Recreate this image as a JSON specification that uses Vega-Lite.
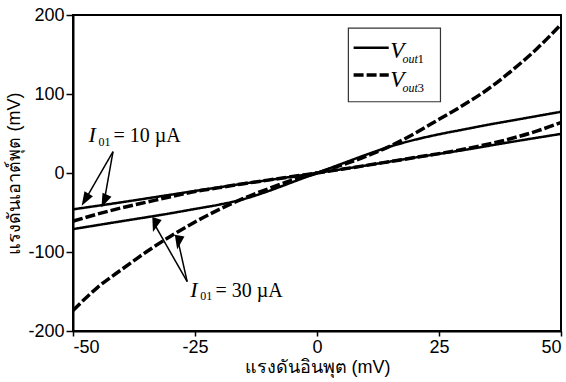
{
  "$schema": "https://vega.github.io/schema/vega-lite/v6.json",
  "autosize": {"type": "none"},
  "padding": {"left": 73, "top": 15, "right": 5, "bottom": 51},
  "width": 488,
  "height": 316,
  "background": "white",
  "config": {
    "view": {"stroke": "black", "strokeWidth": 2},
    "axis": {
      "grid": false,
      "domainColor": "black",
      "domainWidth": 2,
      "tickColor": "black",
      "tickWidth": 1.5,
      "labelColor": "black",
      "labelFont": "Liberation Sans",
      "labelFontSize": 18,
      "titleColor": "black",
      "titleFont": "sans-serif",
      "titleFontSize": 18,
      "titleFontWeight": "normal",
      "labelExpr": "replace(datum.label, '−', '-')"
    }
  },
  "datasets": {
    "curves": [
      {"series": "10uA", "kind": "Vout1", "x": -50, "y": -46},
      {"series": "10uA", "kind": "Vout1", "x": -40, "y": -37},
      {"series": "10uA", "kind": "Vout1", "x": -30, "y": -27.5},
      {"series": "10uA", "kind": "Vout1", "x": -20, "y": -18},
      {"series": "10uA", "kind": "Vout1", "x": -10, "y": -9},
      {"series": "10uA", "kind": "Vout1", "x": 0, "y": 0},
      {"series": "10uA", "kind": "Vout1", "x": 10, "y": 9.5},
      {"series": "10uA", "kind": "Vout1", "x": 20, "y": 19.5},
      {"series": "10uA", "kind": "Vout1", "x": 30, "y": 29},
      {"series": "10uA", "kind": "Vout1", "x": 40, "y": 39.5},
      {"series": "10uA", "kind": "Vout1", "x": 50, "y": 49.5},

      {"series": "10uA", "kind": "Vout3", "x": -50, "y": -61},
      {"series": "10uA", "kind": "Vout3", "x": -45, "y": -52},
      {"series": "10uA", "kind": "Vout3", "x": -40, "y": -44},
      {"series": "10uA", "kind": "Vout3", "x": -35, "y": -37},
      {"series": "10uA", "kind": "Vout3", "x": -30, "y": -30},
      {"series": "10uA", "kind": "Vout3", "x": -25, "y": -23.5},
      {"series": "10uA", "kind": "Vout3", "x": -20, "y": -18.5},
      {"series": "10uA", "kind": "Vout3", "x": -15, "y": -13.5},
      {"series": "10uA", "kind": "Vout3", "x": -10, "y": -9},
      {"series": "10uA", "kind": "Vout3", "x": -5, "y": -4.5},
      {"series": "10uA", "kind": "Vout3", "x": 0, "y": 0},
      {"series": "10uA", "kind": "Vout3", "x": 5, "y": 4.7},
      {"series": "10uA", "kind": "Vout3", "x": 10, "y": 9.5},
      {"series": "10uA", "kind": "Vout3", "x": 15, "y": 14.5},
      {"series": "10uA", "kind": "Vout3", "x": 20, "y": 19.5},
      {"series": "10uA", "kind": "Vout3", "x": 25, "y": 24.5},
      {"series": "10uA", "kind": "Vout3", "x": 30, "y": 30},
      {"series": "10uA", "kind": "Vout3", "x": 35, "y": 36.5},
      {"series": "10uA", "kind": "Vout3", "x": 40, "y": 44},
      {"series": "10uA", "kind": "Vout3", "x": 45, "y": 53},
      {"series": "10uA", "kind": "Vout3", "x": 50, "y": 64},

      {"series": "30uA", "kind": "Vout1", "x": -50, "y": -71},
      {"series": "30uA", "kind": "Vout1", "x": -40, "y": -61},
      {"series": "30uA", "kind": "Vout1", "x": -30, "y": -51},
      {"series": "30uA", "kind": "Vout1", "x": -25, "y": -45.5},
      {"series": "30uA", "kind": "Vout1", "x": -20, "y": -40},
      {"series": "30uA", "kind": "Vout1", "x": -15, "y": -33},
      {"series": "30uA", "kind": "Vout1", "x": -10, "y": -23},
      {"series": "30uA", "kind": "Vout1", "x": -5, "y": -11.5},
      {"series": "30uA", "kind": "Vout1", "x": 0, "y": 0},
      {"series": "30uA", "kind": "Vout1", "x": 5, "y": 11.5},
      {"series": "30uA", "kind": "Vout1", "x": 10, "y": 23},
      {"series": "30uA", "kind": "Vout1", "x": 15, "y": 33.5},
      {"series": "30uA", "kind": "Vout1", "x": 20, "y": 42},
      {"series": "30uA", "kind": "Vout1", "x": 25, "y": 49},
      {"series": "30uA", "kind": "Vout1", "x": 30, "y": 55},
      {"series": "30uA", "kind": "Vout1", "x": 35, "y": 61},
      {"series": "30uA", "kind": "Vout1", "x": 40, "y": 66.5},
      {"series": "30uA", "kind": "Vout1", "x": 45, "y": 72},
      {"series": "30uA", "kind": "Vout1", "x": 50, "y": 77.5},

      {"series": "30uA", "kind": "Vout3", "x": -50, "y": -174},
      {"series": "30uA", "kind": "Vout3", "x": -45, "y": -145},
      {"series": "30uA", "kind": "Vout3", "x": -40, "y": -122},
      {"series": "30uA", "kind": "Vout3", "x": -35, "y": -100},
      {"series": "30uA", "kind": "Vout3", "x": -30, "y": -80},
      {"series": "30uA", "kind": "Vout3", "x": -25, "y": -62},
      {"series": "30uA", "kind": "Vout3", "x": -20, "y": -46},
      {"series": "30uA", "kind": "Vout3", "x": -15, "y": -32},
      {"series": "30uA", "kind": "Vout3", "x": -10, "y": -20},
      {"series": "30uA", "kind": "Vout3", "x": -5, "y": -9},
      {"series": "30uA", "kind": "Vout3", "x": 0, "y": 0},
      {"series": "30uA", "kind": "Vout3", "x": 5, "y": 10},
      {"series": "30uA", "kind": "Vout3", "x": 10, "y": 21},
      {"series": "30uA", "kind": "Vout3", "x": 15, "y": 34},
      {"series": "30uA", "kind": "Vout3", "x": 20, "y": 50},
      {"series": "30uA", "kind": "Vout3", "x": 25, "y": 68},
      {"series": "30uA", "kind": "Vout3", "x": 30, "y": 86},
      {"series": "30uA", "kind": "Vout3", "x": 35, "y": 106},
      {"series": "30uA", "kind": "Vout3", "x": 40, "y": 130},
      {"series": "30uA", "kind": "Vout3", "x": 45, "y": 157},
      {"series": "30uA", "kind": "Vout3", "x": 50, "y": 188}
    ],
    "arrows": [
      {"arrow": "a1", "x": -41.8, "y": 27, "x2": -47.5, "y2": -33.9},
      {"arrow": "a2", "x": -41.8, "y": 27, "x2": -43.6, "y2": -35.6},
      {"arrow": "a3", "x": -26.6, "y": -137.6, "x2": -33.2, "y2": -66.1},
      {"arrow": "a4", "x": -26.6, "y": -137.6, "x2": -28.4, "y2": -88.1}
    ],
    "notes": [
      {"part": "I", "text": "I", "x": -46.8, "y": 39.6},
      {"part": "sub", "text": "01", "x": -44.75, "y": 34.2},
      {"part": "rest", "text": "= 10 µA", "x": -41.7, "y": 39.6},
      {"part": "I", "text": "I", "x": -25.95, "y": -156.6},
      {"part": "sub", "text": "01", "x": -23.9, "y": -160.8},
      {"part": "rest", "text": "= 30 µA", "x": -20.8, "y": -156.6}
    ],
    "legendBox": [{"x": 6.43, "x2": 25.3, "y": 90.2, "y2": 183.3}],
    "legendLines": [
      {"kind": "Vout1", "x": 7.5, "x2": 14.7, "y": 158.6},
      {"kind": "Vout3", "x": 7.5, "x2": 14.7, "y": 124}
    ],
    "legendText": [
      {"part": "V", "text": "V", "x": 15.0, "y": 145.2},
      {"part": "out", "text": "out", "x": 17.5, "y": 138.9},
      {"part": "num", "text": "1", "x": 20.6, "y": 138.9},
      {"part": "V", "text": "V", "x": 15.0, "y": 109.2},
      {"part": "out", "text": "out", "x": 17.5, "y": 102.9},
      {"part": "num", "text": "3", "x": 20.6, "y": 102.9}
    ]
  },
  "layer": [
    {
      "data": {"name": "curves"},
      "mark": {"type": "line", "color": "black", "clip": true, "interpolate": "monotone"},
      "encoding": {
        "x": {
          "field": "x", "type": "quantitative",
          "scale": {"domain": [-50, 50], "nice": false},
          "axis": {"values": [-50, -25, 0, 25, 50], "title": "แรงดันอินพุต (mV)", "tickSize": 5, "labelPadding": 2, "titlePadding": 2}
        },
        "y": {
          "field": "y", "type": "quantitative",
          "scale": {"domain": [-200, 200], "nice": false},
          "axis": {"values": [-200, -100, 0, 100, 200], "title": "แรงดันเอาต์พุต (mV)", "tickSize": 7, "labelPadding": 2, "titlePadding": 4}
        },
        "detail": {"field": "series"},
        "strokeDash": {"field": "kind", "type": "nominal", "scale": {"domain": ["Vout1", "Vout3"], "range": [[1, 0], [10, 3]]}, "legend": null},
        "strokeWidth": {"field": "kind", "type": "nominal", "scale": {"domain": ["Vout1", "Vout3"], "range": [2.5, 3.5]}, "legend": null}
      }
    },
    {
      "mark": {"type": "rule", "color": "black", "strokeWidth": 4},
      "encoding": {"y": {"datum": 200}}
    },
    {
      "data": {"name": "arrows"},
      "mark": {"type": "rule", "color": "black", "strokeWidth": 1.5},
      "encoding": {
        "x": {"field": "x", "type": "quantitative"},
        "y": {"field": "y", "type": "quantitative"},
        "x2": {"field": "x2"},
        "y2": {"field": "y2"}
      }
    },
    {
      "data": {"name": "arrows"},
      "mark": {"type": "point", "shape": "M0,-1L0.7,1L-0.7,1Z", "filled": true, "color": "black", "size": 196, "opacity": 1},
      "encoding": {
        "x": {"field": "x2", "type": "quantitative"},
        "y": {"field": "y2", "type": "quantitative"},
        "angle": {"field": "arrow", "type": "nominal", "scale": {"domain": ["a1", "a2", "a3", "a4"], "range": [210, 190, 330.4, 347.5]}, "legend": null}
      }
    },
    {
      "data": {"name": "notes"},
      "transform": [{"filter": "datum.part === 'I'"}],
      "mark": {"type": "text", "align": "left", "baseline": "alphabetic", "font": "Liberation Serif", "fontStyle": "italic", "fontSize": 22, "color": "black"},
      "encoding": {"x": {"field": "x", "type": "quantitative"}, "y": {"field": "y", "type": "quantitative"}, "text": {"field": "text"}}
    },
    {
      "data": {"name": "notes"},
      "transform": [{"filter": "datum.part === 'sub'"}],
      "mark": {"type": "text", "align": "left", "baseline": "alphabetic", "font": "Liberation Serif", "fontSize": 12, "color": "black"},
      "encoding": {"x": {"field": "x", "type": "quantitative"}, "y": {"field": "y", "type": "quantitative"}, "text": {"field": "text"}}
    },
    {
      "data": {"name": "notes"},
      "transform": [{"filter": "datum.part === 'rest'"}],
      "mark": {"type": "text", "align": "left", "baseline": "alphabetic", "font": "Liberation Serif", "fontSize": 20, "color": "black"},
      "encoding": {"x": {"field": "x", "type": "quantitative"}, "y": {"field": "y", "type": "quantitative"}, "text": {"field": "text"}}
    },
    {
      "data": {"name": "legendBox"},
      "mark": {"type": "rect", "fill": "white", "stroke": "#333333", "strokeWidth": 1.2},
      "encoding": {
        "x": {"field": "x", "type": "quantitative"},
        "x2": {"field": "x2"},
        "y": {"field": "y", "type": "quantitative"},
        "y2": {"field": "y2"}
      }
    },
    {
      "data": {"name": "legendLines"},
      "mark": {"type": "rule", "color": "black"},
      "encoding": {
        "x": {"field": "x", "type": "quantitative"},
        "x2": {"field": "x2"},
        "y": {"field": "y", "type": "quantitative"},
        "strokeDash": {"field": "kind", "type": "nominal", "scale": {"domain": ["Vout1", "Vout3"], "range": [[1, 0], [3, 1.5]]}, "legend": null},
        "strokeWidth": {"field": "kind", "type": "nominal", "scale": {"domain": ["Vout1", "Vout3"], "range": [2, 1.8]}, "legend": null}
      }
    },
    {
      "data": {"name": "legendText"},
      "transform": [{"filter": "datum.part === 'V'"}],
      "mark": {"type": "text", "align": "left", "baseline": "alphabetic", "font": "Liberation Serif", "fontStyle": "italic", "fontSize": 23, "color": "black"},
      "encoding": {"x": {"field": "x", "type": "quantitative"}, "y": {"field": "y", "type": "quantitative"}, "text": {"field": "text"}}
    },
    {
      "data": {"name": "legendText"},
      "transform": [{"filter": "datum.part === 'out'"}],
      "mark": {"type": "text", "align": "left", "baseline": "alphabetic", "font": "Liberation Serif", "fontStyle": "italic", "fontSize": 12, "color": "black"},
      "encoding": {"x": {"field": "x", "type": "quantitative"}, "y": {"field": "y", "type": "quantitative"}, "text": {"field": "text"}}
    },
    {
      "data": {"name": "legendText"},
      "transform": [{"filter": "datum.part === 'num'"}],
      "mark": {"type": "text", "align": "left", "baseline": "alphabetic", "font": "Liberation Serif", "fontSize": 13, "color": "black"},
      "encoding": {"x": {"field": "x", "type": "quantitative"}, "y": {"field": "y", "type": "quantitative"}, "text": {"field": "text"}}
    }
  ]
}
